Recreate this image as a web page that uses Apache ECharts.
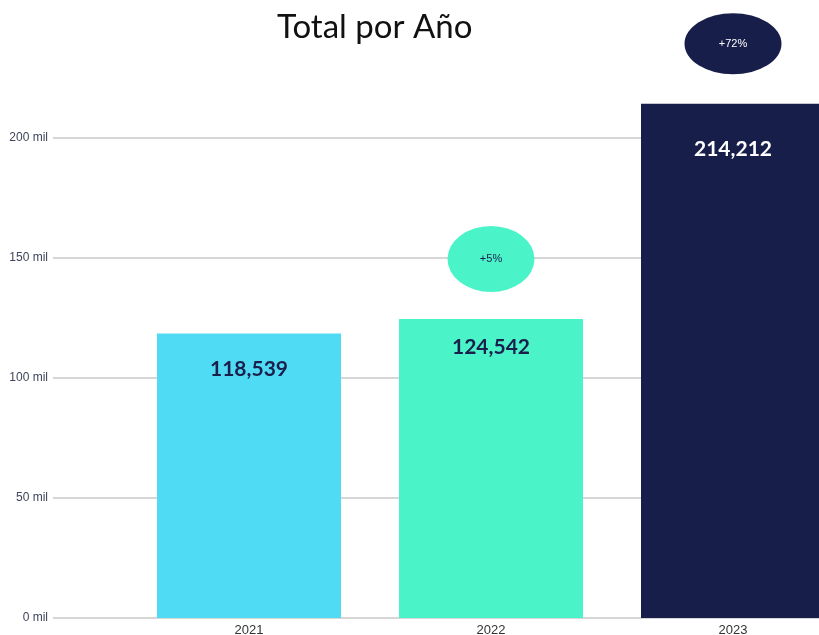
<!DOCTYPE html>
<html lang="es">
<head>
    <meta charset="UTF-8">
    <title>Total por Año</title>
    <script src="https://cdn.jsdelivr.net/npm/echarts@6/dist/echarts.min.js"></script>
    <style>
        * { margin: 0; padding: 0; box-sizing: border-box; }
        body { background: #fff; }
        #main { width: 819px; height: 635px; }
    </style>
</head>
<body>
    <div id="main"></div>

    <script>
        // datos
        const years = ['2021', '2022', '2023'];
        const totals = [118539, 124542, 214212];
        const yTicks = [0, 50000, 100000, 150000, 200000];

        // colores
        const barColors = ['#50dbf5', '#4bf4c8', '#181e4a'];
        const barLabelColors = ['#1a1f4b', '#1a1f4b', '#ffffff'];
        const labelGaps = [25, 18, 35];

        const chart = echarts.init(document.getElementById('main'));

        const yMax = 249500;
        const gridTop = 19, gridBottom = 17;
        const splitStyle = { color: '#c8c8c8', width: 1.5 };

        // variación respecto al año anterior
        const bubbles = totals.slice(1).map(function (v, i) {
            const pct = Math.round((v / totals[i] - 1) * 100);
            const dark = i === totals.length - 2;
            return {
                value: [i + 1, v],
                symbolSize: dark ? [97, 61] : [87, 66],
                itemStyle: { color: barColors[i + 1], opacity: 1 },
                label: { formatter: '+' + pct + '%', color: dark ? '#ffffff' : '#1a1f4b' }
            };
        });

        const option = {
            animation: false,
            graphic: [{
                type: 'text',
                left: 277,
                top: 11,
                style: {
                    text: 'Total por Año',
                    font: '33px Lato',
                    fill: '#111'
                }
            }],
            grid: [
                { left: 53, top: gridTop, bottom: gridBottom, width: 75, outerBoundsMode: 'none', containLabel: false },
                { left: 128, top: gridTop, bottom: gridBottom, width: 726, outerBoundsMode: 'none', containLabel: false }
            ],
            xAxis: [
                { gridIndex: 0, type: 'value', show: false, min: 0, max: 1 },
                {
                    gridIndex: 1,
                    type: 'category',
                    data: years,
                    axisLine: { show: false },
                    axisTick: { show: false },
                    axisLabel: {
                        margin: 6,
                        fontSize: 13,
                        fontFamily: 'Liberation Sans',
                        color: '#333'
                    }
                }
            ],
            yAxis: [0, 1].map(function (g) {
                return {
                    gridIndex: g,
                    type: 'value',
                    min: 0,
                    max: yMax,
                    interval: 50000,
                    axisLine: { show: false },
                    axisTick: { show: false },
                    axisLabel: {
                        show: g === 0,
                        showMaxLabel: false,
                        margin: 5,
                        fontSize: 12,
                        fontFamily: 'Liberation Sans',
                        color: '#40445a',
                        formatter: function (v) {
                            return yTicks.indexOf(v) >= 0 ? (v / 1000) + ' mil' : '';
                        }
                    },
                    splitLine: { show: true, showMaxLine: false, lineStyle: splitStyle }
                };
            }),
            series: [
                {
                    type: 'bar',
                    xAxisIndex: 1,
                    yAxisIndex: 1,
                    barWidth: 184,
                    data: totals.map(function (v, i) {
                        return {
                            value: v,
                            itemStyle: { color: barColors[i] },
                            label: { color: barLabelColors[i], distance: labelGaps[i] }
                        };
                    }),
                    label: {
                        show: true,
                        position: 'insideTop',
                        fontFamily: 'Lato',
                        fontWeight: 'bold',
                        fontSize: 21,
                        formatter: function (p) {
                            return p.value.toLocaleString('en-US');
                        }
                    }
                },
                {
                    type: 'scatter',
                    xAxisIndex: 1,
                    yAxisIndex: 1,
                    clip: false,
                    symbol: 'circle',
                    symbolOffset: [0, -60],
                    z: 5,
                    data: bubbles,
                    label: {
                        show: true,
                        position: 'inside',
                        fontSize: 11,
                        fontFamily: 'Liberation Sans'
                    }
                }
            ]
        };

        chart.setOption(option);
    </script>
</body>
</html>
